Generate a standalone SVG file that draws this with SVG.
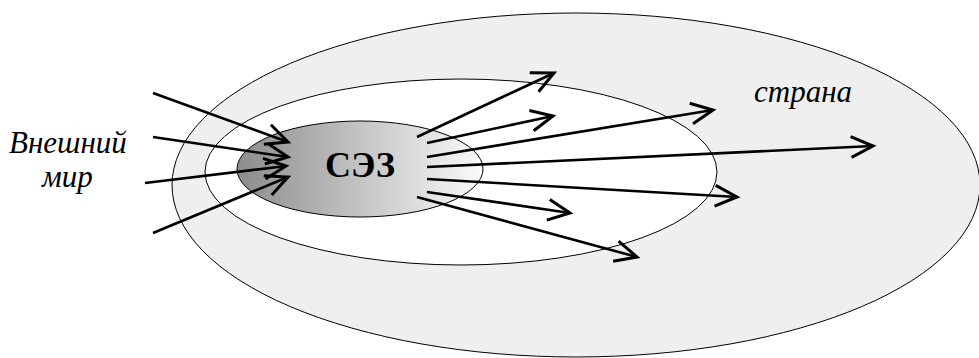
<svg xmlns="http://www.w3.org/2000/svg" width="979" height="358" viewBox="0 0 979 358">
<defs>
<linearGradient id="g" x1="0" y1="0" x2="1" y2="0">
<stop offset="0" stop-color="#8c8c8c"/>
<stop offset="1" stop-color="#fbfbfb"/>
</linearGradient>
<marker id="ah" markerUnits="userSpaceOnUse" markerWidth="30" markerHeight="30" viewBox="-22 -12 26 24" refX="0" refY="0" orient="auto">
<path d="M-19,-9 L0,0 L-19,9" fill="none" stroke="#000" stroke-width="2.6" stroke-linejoin="miter"/>
</marker>
<style>
.el{stroke:#000;stroke-width:1}
.ar{stroke:#000;stroke-width:2.6;fill:none;marker-end:url(#ah)}
.it{font-family:"Liberation Serif","DejaVu Serif",serif;font-style:italic;font-size:31px;fill:#000}
.bd{font-family:"Liberation Serif","DejaVu Serif",serif;font-weight:bold;font-size:36px;fill:#000}
</style>
</defs>
<rect width="979" height="358" fill="#fff"/>
<g id="country">
<ellipse class="el" cx="576" cy="185" rx="404" ry="172" fill="#efefef"/>
<text class="it" x="754" y="102">страна</text>
</g>
<g id="region">
<ellipse class="el" cx="461" cy="172" rx="256" ry="93" fill="#fff"/>
</g>
<g id="sez">
<ellipse class="el" cx="360" cy="169" rx="123" ry="48" fill="url(#g)"/>
<text class="bd" x="360" y="177" text-anchor="middle">СЭЗ</text>
</g>
<g id="world">
<text class="it" x="9" y="153">Внешний</text>
<text class="it" x="42" y="187">мир</text>
</g>
<g id="connectors">
<line class="ar" x1="153" y1="93" x2="288" y2="142"/>
<line class="ar" x1="153" y1="137" x2="288" y2="157"/>
<line class="ar" x1="145" y1="183" x2="286" y2="166"/>
<line class="ar" x1="153" y1="233" x2="288" y2="177"/>
<line class="ar" x1="417" y1="137" x2="554" y2="73"/>
<line class="ar" x1="427" y1="143" x2="553" y2="116"/>
<line class="ar" x1="427" y1="157" x2="713" y2="110"/>
<line class="ar" x1="427" y1="167" x2="873" y2="146"/>
<line class="ar" x1="427" y1="179" x2="737" y2="197"/>
<line class="ar" x1="427" y1="192" x2="570" y2="213"/>
<line class="ar" x1="417" y1="197" x2="637" y2="257"/>
</g>
</svg>
